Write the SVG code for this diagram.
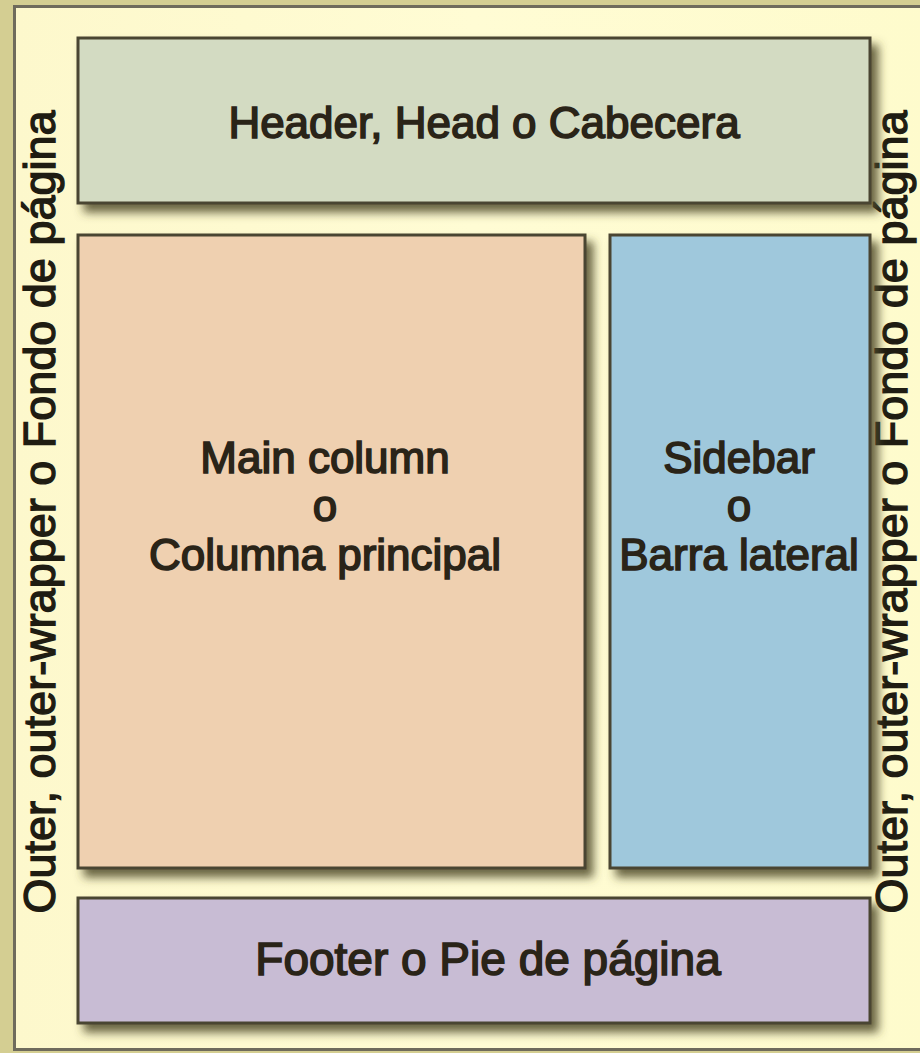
<svg xmlns="http://www.w3.org/2000/svg" width="920" height="1053" viewBox="0 0 920 1053">
  <defs>
    <filter id="shadow" x="-10%" y="-10%" width="130%" height="140%">
      <feDropShadow dx="7" dy="8" stdDeviation="5" flood-color="#4f4b2a" flood-opacity="0.85"/>
    </filter>
    <linearGradient id="frameFill" x1="0" y1="0" x2="1" y2="0">
      <stop offset="0" stop-color="#fdf8cc"/>
      <stop offset="0.5" stop-color="#fffcd4"/>
      <stop offset="1" stop-color="#fefbcc"/>
    </linearGradient>
  </defs>
  <style>
    .box { stroke: #4a4530; stroke-width: 3; }
    .lbl { font-family: "Liberation Sans", Arial, sans-serif; fill: #2a2418; stroke: #2a2418; stroke-width: 1.6; text-anchor: middle; }
    .side { font-family: "Liberation Sans", Arial, sans-serif; fill: #1f1c12; stroke: #1f1c12; stroke-width: 1.4; font-size: 45px; text-anchor: middle; }
  </style>
  <rect x="0" y="0" width="920" height="1053" fill="#d4ce92"/>
  <g id="outer">
    <rect x="14.5" y="6.5" width="920" height="1043" fill="url(#frameFill)" stroke="#6f6b5c" stroke-width="3"/>
    <text class="side" transform="translate(55 512) rotate(-90)">Outer, outer-wrapper o Fondo de página</text>
    <text class="side" transform="translate(907 512) rotate(-90)">Outer, outer-wrapper o Fondo de página</text>
  </g>
  <g id="header">
    <rect class="box" x="78" y="38" width="792" height="165" fill="#d3dbc2" filter="url(#shadow)"/>
    <text class="lbl" x="484" y="138" font-size="44">Header, Head o Cabecera</text>
  </g>
  <g id="main">
    <rect class="box" x="78" y="235" width="507" height="633" fill="#efd0b0" filter="url(#shadow)"/>
    <text class="lbl" x="325" y="473" font-size="44">Main column</text>
    <text class="lbl" x="325" y="521" font-size="44">o</text>
    <text class="lbl" x="325" y="570" font-size="44">Columna principal</text>
  </g>
  <g id="sidebar">
    <rect class="box" x="610" y="235" width="260" height="633" fill="#9fc8dc" filter="url(#shadow)"/>
    <text class="lbl" x="739" y="473" font-size="44" fill="#1c2228" stroke="#1c2228">Sidebar</text>
    <text class="lbl" x="739" y="521" font-size="44" fill="#1c2228" stroke="#1c2228">o</text>
    <text class="lbl" x="739" y="570" font-size="44" fill="#1c2228" stroke="#1c2228">Barra lateral</text>
  </g>
  <g id="footer">
    <rect class="box" x="78" y="898" width="792" height="125" fill="#c8bcd4" filter="url(#shadow)"/>
    <text class="lbl" x="488" y="975" font-size="46">Footer o Pie de página</text>
  </g>
  <g id="connectors"/>
</svg>
